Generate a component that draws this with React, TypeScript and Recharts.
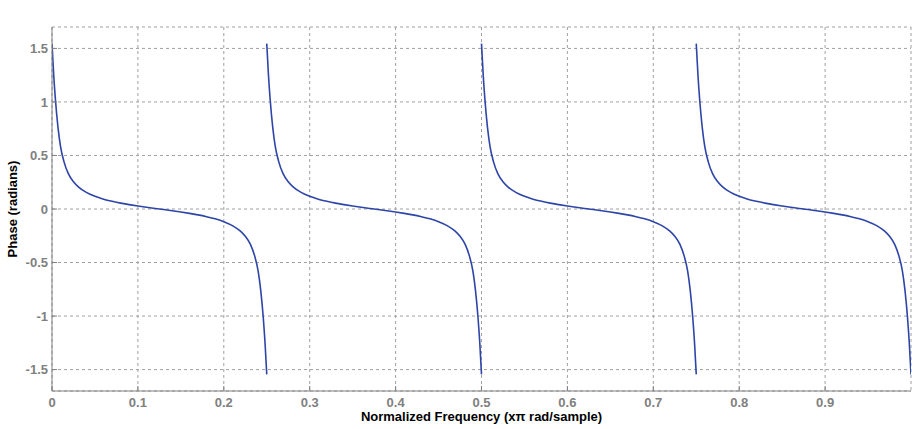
import React from "react";
import { LineChart, Line, XAxis, YAxis, CartesianGrid } from "recharts";

// Normalized frequency (x pi rad/sample) vs phase (radians), one array per branch
const seg1: [number, number][] = [
  [0, 1.545], [0.002, 1.25], [0.004, 1.02], [0.007, 0.76], [0.01, 0.58], [0.014, 0.44],
  [0.019, 0.33], [0.025, 0.255], [0.031, 0.205], [0.04, 0.155], [0.05, 0.118], [0.06, 0.092],
  [0.07, 0.072], [0.08, 0.055], [0.09, 0.041], [0.1, 0.028], [0.11, 0.016], [0.125, 0],
  [0.14, -0.016], [0.15, -0.028], [0.16, -0.041], [0.17, -0.055], [0.18, -0.072], [0.19, -0.092],
  [0.2, -0.118], [0.21, -0.155], [0.219, -0.205], [0.225, -0.255], [0.231, -0.33], [0.236, -0.44],
  [0.24, -0.58], [0.243, -0.76], [0.246, -1.02], [0.248, -1.25], [0.25, -1.545],
];
const seg2: [number, number][] = [
  [0.25, 1.545], [0.252, 1.25], [0.254, 1.02], [0.257, 0.76], [0.26, 0.58], [0.264, 0.44],
  [0.269, 0.33], [0.275, 0.255], [0.281, 0.205], [0.29, 0.155], [0.3, 0.118], [0.31, 0.092],
  [0.32, 0.072], [0.33, 0.055], [0.34, 0.041], [0.35, 0.028], [0.36, 0.016], [0.375, 0],
  [0.39, -0.016], [0.4, -0.028], [0.41, -0.041], [0.42, -0.055], [0.43, -0.072], [0.44, -0.092],
  [0.45, -0.118], [0.46, -0.155], [0.469, -0.205], [0.475, -0.255], [0.481, -0.33], [0.486, -0.44],
  [0.49, -0.58], [0.493, -0.76], [0.496, -1.02], [0.498, -1.25], [0.5, -1.545],
];
const seg3: [number, number][] = [
  [0.5, 1.545], [0.502, 1.25], [0.504, 1.02], [0.507, 0.76], [0.51, 0.58], [0.514, 0.44],
  [0.519, 0.33], [0.525, 0.255], [0.531, 0.205], [0.54, 0.155], [0.55, 0.118], [0.56, 0.092],
  [0.57, 0.072], [0.58, 0.055], [0.59, 0.041], [0.6, 0.028], [0.61, 0.016], [0.625, 0],
  [0.64, -0.016], [0.65, -0.028], [0.66, -0.041], [0.67, -0.055], [0.68, -0.072], [0.69, -0.092],
  [0.7, -0.118], [0.71, -0.155], [0.719, -0.205], [0.725, -0.255], [0.731, -0.33], [0.736, -0.44],
  [0.74, -0.58], [0.743, -0.76], [0.746, -1.02], [0.748, -1.25], [0.75, -1.545],
];
const seg4: [number, number][] = [
  [0.75, 1.545], [0.752, 1.25], [0.754, 1.02], [0.757, 0.76], [0.76, 0.58], [0.764, 0.44],
  [0.769, 0.33], [0.775, 0.255], [0.781, 0.205], [0.79, 0.155], [0.8, 0.118], [0.81, 0.092],
  [0.82, 0.072], [0.83, 0.055], [0.84, 0.041], [0.85, 0.028], [0.86, 0.016], [0.875, 0],
  [0.89, -0.016], [0.9, -0.028], [0.91, -0.041], [0.92, -0.055], [0.93, -0.072], [0.94, -0.092],
  [0.95, -0.118], [0.96, -0.155], [0.969, -0.205], [0.975, -0.255], [0.981, -0.33], [0.986, -0.44],
  [0.99, -0.58], [0.993, -0.76], [0.996, -1.02], [0.998, -1.25], [1.0, -1.545],
];

const xTicks = [0, 0.1, 0.2, 0.3, 0.4, 0.5, 0.6, 0.7, 0.8, 0.9];
const yTicks = [-1.5, -1, -0.5, 0, 0.5, 1, 1.5];

const toRows = (s: [number, number][]) => s.map(([f, p]) => ({ f, p }));
const segments = [seg1, seg2, seg3, seg4].map(toRows);

const FONT = "'Liberation Sans', Arial, Helvetica, sans-serif";
const AXIS = "#808080";
const tickStyle = { fill: "#808080", fontSize: 13, fontWeight: 700, fontFamily: FONT };

const YLabel = () => (
  <text
    x={17}
    y={209}
    transform="rotate(-90 17 209)"
    textAnchor="middle"
    fontFamily={FONT}
    fontSize={13}
    fontWeight={700}
    fill="#000"
  >
    Phase (radians)
  </text>
);

export default function App() {
  return (
    <div style={{ position: "absolute", left: 0, top: 0, width: 912, height: 429, background: "#fff" }}>
      <LineChart width={912} height={429} margin={{ top: 27, right: 1, bottom: 0, left: 0 }}>
        <CartesianGrid stroke="#a0a0a0" strokeDasharray="3 3" />
        <XAxis
          xAxisId={0}
          dataKey="f"
          type="number"
          domain={[0, 1]}
          ticks={xTicks}
          allowDataOverflow
          height={38}
          tickSize={-5}
          tickMargin={12}
          tick={tickStyle}
          stroke={AXIS}
          tickFormatter={(v: number) => String(v)}
          label={{
            value: "Normalized Frequency (x\u03c0 rad/sample)",
            position: "insideBottom",
            offset: 8,
            style: { fontFamily: FONT, fontSize: 13, fontWeight: 700, fill: "#000" },
          }}
        />
        <XAxis
          xAxisId="top"
          orientation="top"
          type="number"
          domain={[0, 1]}
          ticks={xTicks}
          height={0}
          tickSize={-5}
          tickFormatter={() => ""}
          stroke={AXIS}
          label={{
            value: "Phase Response",
            position: "top",
            offset: 10,
            style: { fontFamily: FONT, fontSize: 13, fontWeight: 700, fill: "#000" },
          }}
        />
        <YAxis
          yAxisId={0}
          type="number"
          domain={[-1.7, 1.7]}
          ticks={yTicks}
          allowDataOverflow
          width={52}
          tickSize={-5}
          tickMargin={9}
          tick={tickStyle}
          stroke={AXIS}
          tickFormatter={(v: number) => String(v)}
          label={<YLabel />}
        />
        <YAxis
          yAxisId="right"
          orientation="right"
          type="number"
          domain={[-1.7, 1.7]}
          ticks={yTicks}
          width={0}
          tickSize={-5}
          tickFormatter={() => ""}
          stroke={AXIS}
        />
        {segments.map((d, i) => (
          <Line
            key={i}
            data={d}
            dataKey="p"
            xAxisId={0}
            yAxisId={0}
            type="monotone"
            stroke="#2E45A8"
            strokeWidth={1.6}
            dot={false}
            isAnimationActive={false}
          />
        ))}
      </LineChart>
    </div>
  );
}
